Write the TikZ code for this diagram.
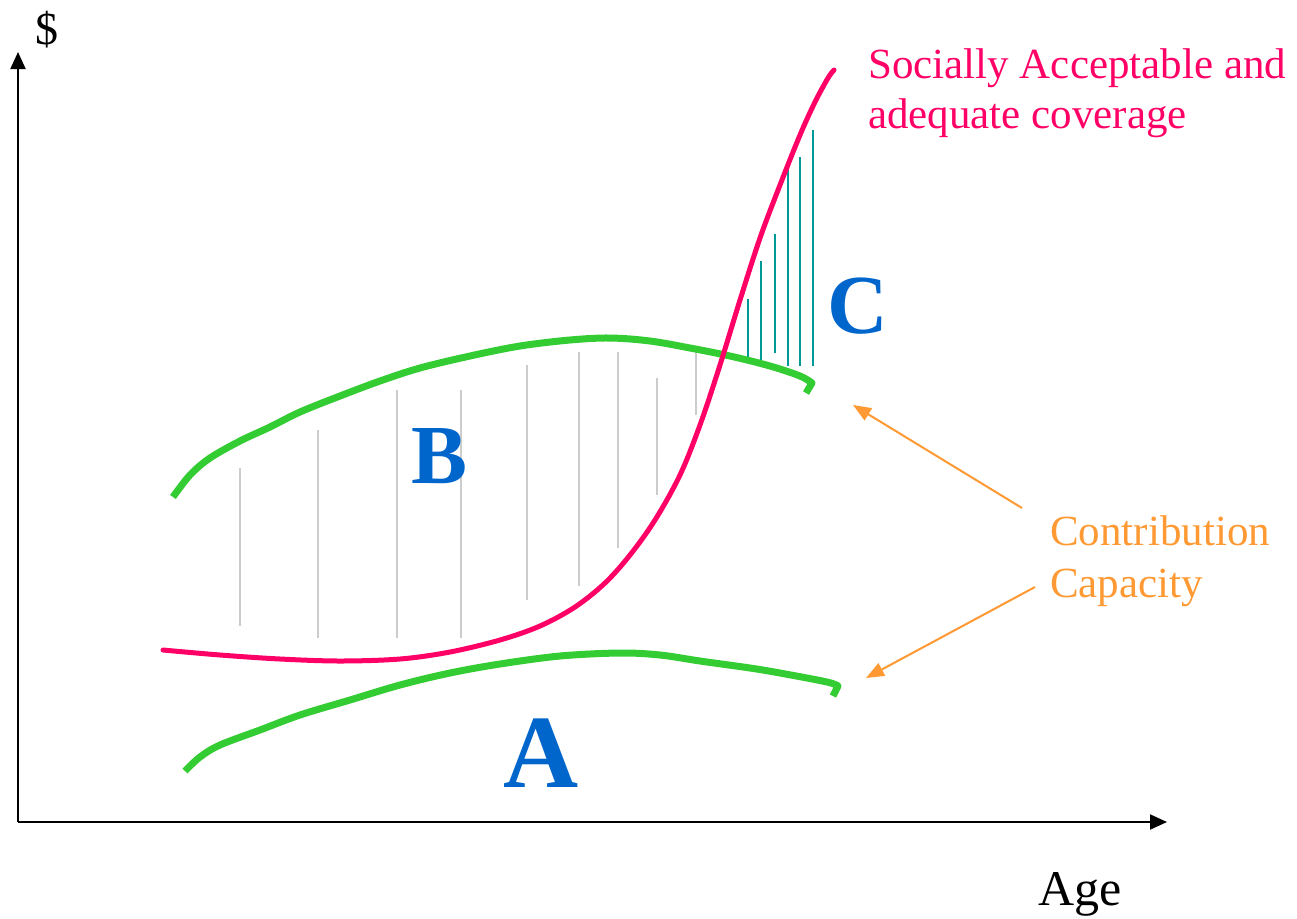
\documentclass[tikz,border=0pt]{standalone}
\usepackage{fontspec}
\setmainfont{Liberation Serif}
\usetikzlibrary{arrows.meta}
\definecolor{cgreen}{HTML}{33CC33}
\definecolor{cpink}{HTML}{FF0066}
\definecolor{cteal}{HTML}{009999}
\definecolor{cgray}{HTML}{CCCCCC}
\definecolor{cblue}{HTML}{0066CC}
\definecolor{corange}{HTML}{FF9933}
\begin{document}
\begin{tikzpicture}[x=1pt,y=-1pt,
  axis/.style={line width=2pt,-{Triangle[length=17pt,width=15pt]}},
  capline/.style={draw=cgreen,line width=7pt,line join=round},
  covline/.style={draw=cpink,line width=5pt,line join=round,line cap=round},
  grayhatch/.style={draw=cgray,line width=2pt},
  tealhatch/.style={draw=cteal,line width=2.2pt},
  pointer/.style={draw=corange,line width=2pt,-{Triangle[length=18pt,width=14pt]}},
  region/.style={text=cblue,font=\bfseries\fontsize{84}{84}\selectfont,inner sep=0pt,anchor=base},
  lbl/.style={inner sep=0pt,anchor=base west,align=left}]
\useasboundingbox (0,0) rectangle (1297,918);
% axes
\coordinate (O) at (18,822);
\coordinate (Ytip) at (18,52);
\coordinate (Xtip) at (1167,822);
\draw[axis] (O) -- (Ytip);
\draw[axis] (O) -- (Xtip);
\node[lbl,font=\fontsize{46}{46}\selectfont] (dollar) at (35,44) {\$};
\node[lbl,font=\fontsize{50}{50}\selectfont] (age) at (1038,905) {Age};
% gray hatch (B)
\foreach \x/\a/\b in {240/468/626,318/430/638,397/390/638,461/390/638,527/365/600,579/352/586,618/352/548,657/378/495,696/352/415}
  \draw[grayhatch] (\x,\a) -- (\x,\b);
% teal hatch (C)
\foreach \x/\a/\b in {748/299/359,761/261/363,775/234/353,788/169/366,800/157/366,813/130/366}
  \draw[tealhatch] (\x,\a) -- (\x,\b);
% contribution capacity curves
\draw[capline] plot[smooth,tension=0.55] coordinates {(173,497) (190,475) (210,458) (240,441) (270,427) (300,412) (340,396) (380,381) (420,368) (470,356) (520,346) (570,340) (610,338) (650,341) (690,348) (730,356) (770,366) (800,376) (812,383)} -- (806,393);
\draw[capline] plot[smooth,tension=0.55] coordinates {(185,771) (200,757) (220,745) (260,730) (300,715) (350,700) (400,685) (450,673) (500,664) (560,656) (620,653) (660,655) (700,661) (750,668) (780,673) (827,682) (838,686)} -- (833,696);
% coverage curve
\draw[covline] plot[smooth,tension=0.55] coordinates {(163,650) (220,655) (280,659) (340,661) (400,659) (450,652) (500,640) (540,626) (575,607) (605,583) (630,555) (655,520) (680,475) (700,425) (720,365) (740,300) (760,238) (780,185) (800,135) (815,102) (828,78) (834,70)};
% region labels
\node[region] (B) at (440,483) {B};
\node[region] (C) at (858,333) {C};
\node[region,font=\bfseries\fontsize{104}{104}\selectfont] (A) at (541,787) {A};
% texts
\node[lbl,text=cpink,font=\fontsize{43}{50}\selectfont] (cov) at (868,128) {Socially Acceptable and\\adequate coverage};
\node[lbl,text=corange,font=\fontsize{43}{52}\selectfont] (cc) at (1050,597) {Contribution\\Capacity};
% pointers
\coordinate (s1) at (1022,508);
\coordinate (t1) at (853,405);
\coordinate (s2) at (1035,587);
\coordinate (t2) at (866,678);
\draw[pointer] (s1) -- (t1);
\draw[pointer] (s2) -- (t2);
\end{tikzpicture}
\end{document}
